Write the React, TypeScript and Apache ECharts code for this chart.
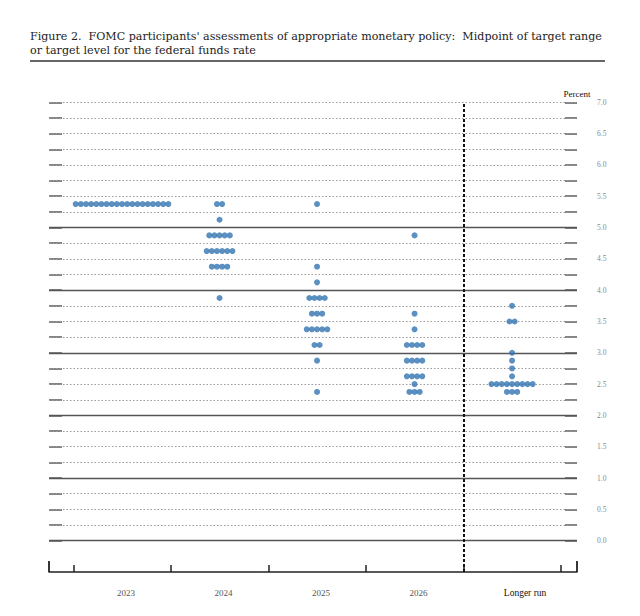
import React, { useEffect, useRef } from "react";
import * as echarts from "echarts";

// ---- Data ----
const columns = ["2023", "2024", "2025", "2026", "Longer run"];

// [midpoint rate, number of participants]
const dots2023: [number, number][] = [[5.375, 19]];
const dots2024: [number, number][] = [
  [5.375, 2], [5.125, 1], [4.875, 5], [4.625, 6], [4.375, 4], [3.875, 1],
];
const dots2025: [number, number][] = [
  [5.375, 1], [4.375, 1], [4.125, 1], [3.875, 4], [3.625, 3], [3.375, 5],
  [3.125, 2], [2.875, 1], [2.375, 1],
];
const dots2026: [number, number][] = [
  [4.875, 1], [3.625, 1], [3.375, 1], [3.125, 4], [2.875, 4], [2.625, 4],
  [2.5, 1], [2.375, 3],
];
const dotsLongerRun: [number, number][] = [
  [3.75, 1], [3.5, 2], [3.0, 1], [2.875, 1], [2.75, 1], [2.625, 1],
  [2.5, 9], [2.375, 3],
];
const columnDots = [dots2023, dots2024, dots2025, dots2026, dotsLongerRun];

const percentTicks = [
  0, 0.25, 0.5, 0.75, 1, 1.25, 1.5, 1.75, 2, 2.25, 2.5, 2.75, 3, 3.25, 3.5,
  3.75, 4, 4.25, 4.5, 4.75, 5, 5.25, 5.5, 5.75, 6, 6.25, 6.5, 6.75, 7,
];
const percentLabels = [0, 0.5, 1, 1.5, 2, 2.5, 3, 3.5, 4, 4.5, 5, 5.5, 6, 6.5, 7];
const solidLevels = [0, 1, 2, 3, 4, 5];
const columnBoundaries = [-0.5, 0.5, 1.5, 2.5, 3.5, 4.5];
const columnCenters = [0, 1, 2, 3, 4];
const dividerAt = 3.5;

const titleText =
  "Figure 2.  FOMC participants' assessments of appropriate monetary policy:  Midpoint of target range\nor target level for the federal funds rate";

const X_MIN = -0.749;
const X_MAX = 4.666;
const DOT_STEP = 0.0528;
const SERIF = "'Liberation Serif', 'DejaVu Serif', serif";

export default function App() {
  const ref = useRef<HTMLDivElement>(null);

  useEffect(() => {
    document.body.style.margin = "0";
    if (!ref.current) return;
    const chart = echarts.init(ref.current, undefined, { renderer: "svg" });

    const dotData: number[][] = [];
    columnDots.forEach((rows, ci) => {
      rows.forEach(([rate, n]) => {
        for (let k = 0; k < n; k++) {
          dotData.push([ci + (k - (n - 1) / 2) * DOT_STEP, rate]);
        }
      });
    });

    const lineMarks: any[] = percentTicks.map((v) => {
      const solid = solidLevels.includes(v);
      return {
        yAxis: v,
        lineStyle: solid
          ? { color: "#555", width: 1.3, type: "solid" }
          : { color: "#9a9a9a", width: 1, type: [1.5, 2] },
      };
    });
    lineMarks.push({
      xAxis: dividerAt,
      lineStyle: { color: "#111", width: 2, type: [3, 2] },
    });

    const tickCommon = { color: "#777", width: 1.8 };

    chart.setOption({
      animation: false,
      backgroundColor: "#fff",
      textStyle: { fontFamily: SERIF },
      title: {
        text: titleText,
        left: 30,
        top: 29,
        padding: 0,
        textStyle: {
          fontFamily: "'DejaVu Serif', serif",
          fontSize: 11.1,
          lineHeight: 14,
          fontWeight: "normal",
          color: "#222",
        },
      },
      graphic: [
        {
          type: "line",
          shape: { x1: 30, y1: 61, x2: 605, y2: 61 },
          style: { stroke: "#333", lineWidth: 1.5 },
        },
      ],
      grid: { left: 49, right: 63, top: 102.3, bottom: 44 },
      xAxis: [
        {
          type: "value",
          min: X_MIN,
          max: X_MAX,
          position: "bottom",
          axisLine: { show: true, onZero: false, lineStyle: { color: "#222", width: 1.5 } },
          axisTick: {
            show: true,
            inside: true,
            length: 7,
            customValues: columnBoundaries,
            lineStyle: { color: "#222", width: 1.5 },
          },
          axisLabel: {
            show: true,
            customValues: columnCenters,
            margin: 16,
            formatter: (v: number) => {
              const i = Math.round(v);
              return i === 4 ? `{lr|${columns[i]}}` : `{yr|${columns[i]}}`;
            },
            rich: {
              yr: {
                fontFamily: SERIF,
                fontSize: 9,
                color: "#555",
                padding: [0, 0, 0, 8],
              },
              lr: {
                fontFamily: SERIF,
                fontSize: 9.5,
                color: "#111",
                padding: [0, 0, 0, 26],
              },
            },
          },
          splitLine: { show: false },
        },
        {
          type: "value",
          min: X_MIN,
          max: X_MAX,
          position: "bottom",
          axisLine: { show: false, onZero: false },
          axisTick: {
            show: true,
            inside: true,
            length: 11,
            customValues: [X_MIN, X_MAX],
            lineStyle: { color: "#222", width: 1.8 },
          },
          axisLabel: { show: false },
          splitLine: { show: false },
        },
      ],
      yAxis: [
        {
          type: "value",
          min: -0.5,
          max: 7,
          position: "left",
          axisLine: { show: false, onZero: false },
          axisTick: {
            show: true,
            inside: true,
            length: 13,
            customValues: percentTicks,
            lineStyle: tickCommon,
          },
          axisLabel: { show: false },
          splitLine: { show: false },
        },
        {
          type: "value",
          min: -0.5,
          max: 7,
          position: "right",
          name: "Percent",
          nameLocation: "end",
          nameGap: 4,
          nameTextStyle: {
            fontFamily: SERIF,
            fontSize: 9,
            color: "#111",
            align: "center",
            verticalAlign: "bottom",
          },
          axisLine: { show: false, onZero: false },
          axisTick: {
            show: true,
            inside: true,
            length: 12,
            customValues: percentTicks,
            lineStyle: tickCommon,
          },
          axisLabel: {
            show: true,
            customValues: percentLabels,
            margin: 20,
            fontFamily: SERIF,
            fontSize: 7.5,
            color: "#888",
            formatter: (v: number) => v.toFixed(1),
          },
          splitLine: { show: false },
        },
      ],
      series: [
        {
          type: "scatter",
          name: "grid",
          xAxisIndex: 0,
          yAxisIndex: 0,
          data: [],
          z: 1,
          silent: true,
          markLine: {
            silent: true,
            symbol: "none",
            label: { show: false },
            data: lineMarks,
          },
        },
        {
          type: "scatter",
          name: "participants",
          xAxisIndex: 0,
          yAxisIndex: 0,
          z: 5,
          symbol: "circle",
          symbolSize: 6,
          itemStyle: { color: "#3274b0" },
          data: dotData,
        },
      ],
    });

    return () => chart.dispose();
  }, []);

  return <div ref={ref} style={{ width: 640, height: 616 }} />;
}
